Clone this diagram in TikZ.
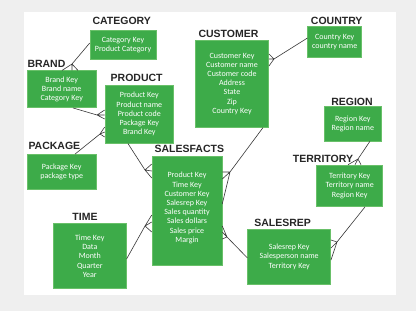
\documentclass[tikz,border=0pt]{standalone}
\usepackage{fontspec}
\setmainfont{Carlito}
\newfontfamily\titlefont{Liberation Sans}
\definecolor{boxgreen}{RGB}{61,171,73}
\definecolor{boxedge}{RGB}{105,192,105}
\definecolor{bggray}{RGB}{239,239,239}
\definecolor{linegray}{RGB}{55,55,55}
\begin{document}
\begin{tikzpicture}[x=1pt,y=-1pt,
  tbl/.style={draw=boxedge, line width=0.5pt, fill=boxgreen, text=white, align=center, font=\fontsize{8}{9.2}\selectfont, inner sep=0pt},
  ttl/.style={font=\titlefont\bfseries\fontsize{10.5}{10.5}\selectfont, text=black!85, inner sep=0pt, text height=7.5pt, text depth=0pt},
  conn/.style={draw=linegray, line width=0.6pt}]
\useasboundingbox (0,0) rectangle (416,311);
\fill[bggray] (0,0) rectangle (416,311);
\fill[white] (24,12) rectangle (396,295);

% tables
\node[tbl, minimum width=66pt, minimum height=28.6pt] (category) at (123,45) {Category Key\\Product Category};
\node[tbl, minimum width=68.7pt, minimum height=37pt] (brand) at (61.7,89.2) {Brand Key\\Brand name\\Category Key};
\node[tbl, minimum width=68.7pt, minimum height=58.3pt] (product) at (139.3,114.2) {Product Key\\Product name\\Product code\\Package Key\\Brand Key};
\node[tbl, minimum width=68.7pt, minimum height=34.7pt] (package) at (61.7,171.7) {Package Key\\package type};
\node[tbl, minimum width=73pt, minimum height=65pt] (time) at (89.8,256.2) {Time Key\\Data\\Month\\Quarter\\Year};
\node[tbl, minimum width=70pt, minimum height=108.6pt] (salesfacts) at (187,211) {Product Key\\Time Key\\Customer Key\\Salesrep Key\\Sales quantity\\Sales dollars\\Sales price\\Margin\\[-2pt]\mbox{}};
\node[tbl, minimum width=73.4pt, minimum height=87.3pt] (customer) at (232,83.7) {Customer Key\\Customer name\\Customer code\\Address\\State\\Zip\\Country Key};
\node[tbl, minimum width=54pt, minimum height=31pt] (country) at (334.7,42.2) {Country Key\\country name};
\node[tbl, minimum width=57.7pt, minimum height=34.3pt] (region) at (352.8,123.8) {Region Key\\Region name};
\node[tbl, minimum width=66pt, minimum height=41.7pt] (territory) at (349.7,185.8) {Territory Key\\Territory name\\Region Key};
\node[tbl, minimum width=83pt, minimum height=55pt] (salesrep) at (289.2,256.8) {Salesrep Key\\Salesperson name\\Territory Key};

% titles
\node[ttl] (categoryT) at (121.7,20.7) {CATEGORY};
\node[ttl, anchor=west] (brandT) at (27.3,63.3) {BRAND};
\node[ttl] (productT) at (136.7,77.7) {PRODUCT};
\node[ttl, anchor=west] (packageT) at (28.3,145.7) {PACKAGE};
\node[ttl] (timeT) at (85,216.7) {TIME};
\node[ttl] (salesfactsT) at (189.3,149) {SALESFACTS};
\node[ttl] (customerT) at (228.5,33.3) {CUSTOMER};
\node[ttl] (countryT) at (336.7,20.7) {COUNTRY};
\node[ttl] (regionT) at (352,101.7) {REGION};
\node[ttl] (territoryT) at (323,159) {TERRITORY};
\node[ttl] (salesrepT) at (282.7,222.3) {SALESREP};

% connectors (crow's feet)
\draw[conn] (category.west |- 0,43) -- (72,64) -- (brand.north -| 62,0) (72,64) -- (brand.north -| 72,0) (72,64) -- (brand.north -| 78,0);
\draw[conn] (brand.south -| 73,0) -- (97,115) -- (product.west |- 0,110) (97,115) -- (product.west |- 0,115) (97,115) -- (product.west |- 0,119);
\draw[conn] (package.north -| 75,0) -- (100,134) -- (product.west |- 0,127) (100,134) -- (product.west |- 0,132) (100,134) -- (product.west |- 0,137);
\draw[conn] (product.south -| 128,0) -- (145,170) -- (salesfacts.west |- 0,164) (145,170) -- (salesfacts.west |- 0,171) (145,170) -- (salesfacts.west |- 0,178);
\draw[conn] (time.east |- 0,259) -- (145,226) -- (salesfacts.west |- 0,215) (145,226) -- (salesfacts.west |- 0,222) (145,226) -- (salesfacts.west |- 0,232);
\draw[conn] (country.west |- 0,38) -- (274,59) -- (customer.east |- 0,54) (274,59) -- (customer.east |- 0,59) (274,59) -- (customer.east |- 0,66);
\draw[conn] (customer.south -| 263,0) -- (230,172) -- (salesfacts.east |- 0,172) (230,172) -- (salesfacts.east |- 0,179) (230,172) -- (salesfacts.east |- 0,204);
\draw[conn] (salesrep.west |- 0,258) -- (227,237) -- (salesfacts.east |- 0,226) (227,237) -- (salesfacts.east |- 0,232) (227,237) -- (salesfacts.east |- 0,239);
\draw[conn] (territory.south -| 365,0) -- (337,242) -- (salesrep.east |- 0,240) (337,242) -- (salesrep.east |- 0,248) (337,242) -- (salesrep.east |- 0,260);
\draw[conn] (region.south -| 370,0) -- (358,159) -- (territory.north -| 348,0) (358,159) -- (territory.north -| 355,0) (358,159) -- (territory.north -| 361,0);
\end{tikzpicture}
\end{document}
